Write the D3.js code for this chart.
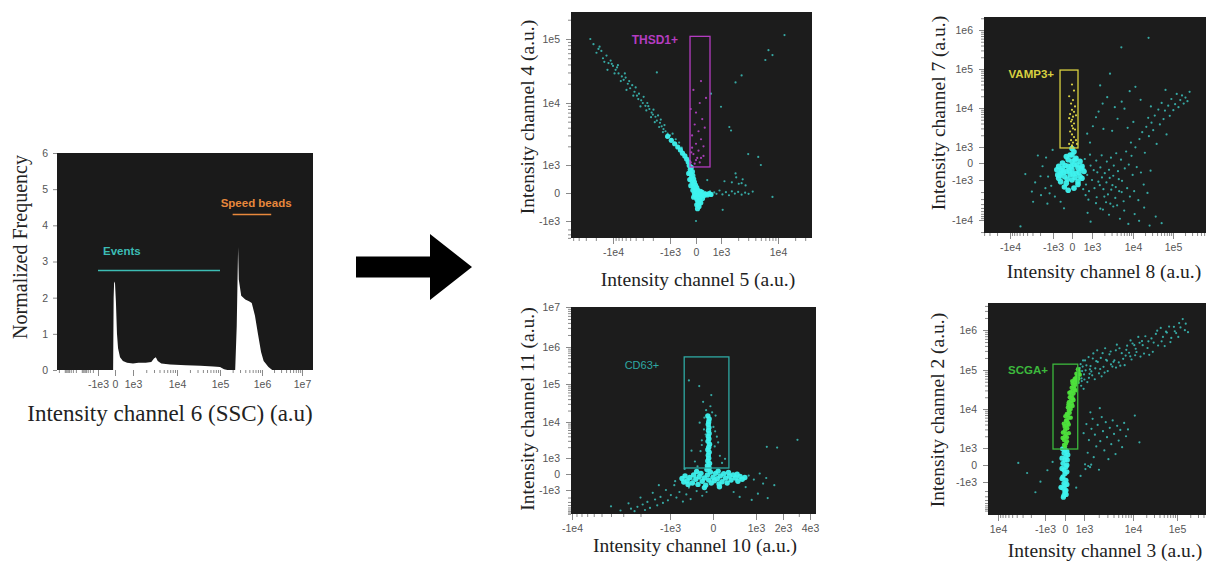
<!DOCTYPE html>
<html>
<head>
<meta charset="utf-8">
<script src="https://cdn.jsdelivr.net/npm/d3@7"></script>
<style>
body { margin: 0; background: #fff; }
svg { display: block; }
</style>
</head>
<body>
<svg width="1206" height="563"></svg>
<script>
// ---- histogram, channel 6 (SSC)
const histX = [-1000, -170, -110, -80, -50, 0, 50, 110, 170, 280, 440, 670, 1000, 1330, 1950, 2600, 3000, 3300, 3650, 4400, 7000, 16000, 35000, 70000, 100000, 125000, 150000, 230000, 250000, 270000, 280000, 320000, 400000, 490000, 570000, 680000, 800000, 950000, 1100000, 1450000, 1800000, 1e7];
const histY = [0, 0, 0, 2.0, 2.45, 2.4, 1.9, 1.0, 0.6, 0.35, 0.25, 0.2, 0.18, 0.2, 0.2, 0.22, 0.32, 0.35, 0.25, 0.18, 0.15, 0.13, 0.12, 0.1, 0.08, 0.02, 0, 0, 1.2, 3.4, 2.5, 2.05, 1.95, 1.9, 1.85, 1.5, 1.0, 0.5, 0.25, 0.08, 0, 0];
const histXTicks = [-1e3, 0, 1e3, 1e4, 1e5, 1e6, 1e7];
const histXLabels = ["-1e3", "0", "1e3", "1e4", "1e5", "1e6", "1e7"];
const histYTicks = [0, 1, 2, 3, 4, 5, 6];
// [label, from, to, level]
const histMarks = [["Events", -1e3, 1e5, 2.75], ["Speed beads", 2e5, 1.7e6, 4.3]];

// ---- panel A : channel 5 vs channel 4, THSD1+
const aXTicks = [-1e4, -1e3, 0, 1e3, 1e4];
const aXLabels = ["-1e4", "-1e3", "0", "1e3", "1e4"];
const aYTicks = [-1e3, 0, 1e3, 1e4, 1e5];
const aYLabels = ["-1e3", "0", "1e3", "1e4", "1e5"];
const aGate = [-230, 560, 930, 1.1e5];
const aSparse = [[-2.5e4,1e5],[-1.8e4,7e4],[-1.6e4,6.5e4],[-1.5e4,5e4],[-1.3e4,5.5e4],[-1.2e4,4.2e4],[-1.1e4,4.6e4],[-1e4,3.8e4],[-9e3,3.3e4],[-8.5e3,3.6e4],[-8e3,2.9e4],[-7e3,2.6e4],[-6.5e3,2.3e4],[-6e3,2.5e4],[-5.5e3,2e4],[-5e3,1.7e4],[-4.6e3,1.9e4],[-4.2e3,1.5e4],[-3.8e3,1.3e4],[-3.5e3,1.4e4],[-3.2e3,1.1e4],[-3e3,1e4],[-2.7e3,9e3],[-2.5e3,1e4],[-2.3e3,8e3],[-2.1e3,7e3],[-2e3,6.5e3],[-1.8e3,6e3],[-1.7e3,5.2e3],[-1.5e3,4.8e3],[-1.4e3,4.2e3],[-1.3e3,3.8e3],[-1.2e3,3.5e3],[-1.1e3,3.2e3],[-1e3,3e3],[-950,2.6e3],[-850,2.3e3],[-700,1.9e3],[-500,1.5e3],[-400,1.3e3],[-300,1.1e3],
  [-2.2e4,8.3e4],[-1.95e4,6.1e4],[-1.72e4,7.6e4],[-1.42e4,4.4e4],[-1.25e4,3.3e4],[-1.05e4,4.1e4],[-9.4e3,2.9e4],[-8.2e3,3.9e4],[-7.3e3,2.2e4],[-6.2e3,2.9e4],[-5.8e3,1.6e4],[-5.2e3,2.2e4],[-4.4e3,1.3e4],[-4e3,1.75e4],[-3.6e3,1.15e4],[-3.3e3,8.8e3],[-2.9e3,1.25e4],[-2.6e3,7.6e3],[-2.4e3,8.9e3],[-2.15e3,5.9e3],[-1.95e3,7.8e3],[-1.85e3,4.9e3],[-1.62e3,6.3e3],[-1.55e3,4.1e3],[-1.45e3,5.4e3],[-1.33e3,3.4e3],[-1.25e3,4.4e3],[-1.15e3,2.8e3],[-900,3.2e3],[-780,2.6e3],[-650,2.3e3],[-550,1.9e3],
  [310,-40],[380,30],[470,-10],[560,60],[640,-70],[730,20],[820,-30],[940,90],[1.06e3,-50],[1.22e3,30],[1.38e3,-80],[1.55e3,60],[1.75e3,-20],[2e3,40],[2.3e3,-60],[2.65e3,10],[3.05e3,-30],[3.6e3,50],[1.15e3,420],[1.55e3,380],[2.05e3,330],[2.7e3,270],[1.85e3,560],[2.4e3,490],
  [1.3e4,1.15e5],[6.8e3,6.7e4],[6e3,4.7e4],[8e3,5.6e4],[1.8e3,2.1e4],[2.3e3,2.7e4],[-1.7e3,3e4],[1.4e3,4.1e3],[1.5e3,3.6e3],[3e3,1.5e3],[4.5e3,1.35e3],[5e3,1e3],[8e3,-140],[0,-1e3],[1.07e3,-600],[1e3,8.7e3],[600,1.4e4],[450,460],[1.8e3,700],[2.3e3,350]];
const aCore = [[-1.1e3,2.9e3],[-950,2.5e3],[-820,2.2e3],[-700,1.95e3],[-600,1.75e3],[-520,1.55e3],[-430,1.4e3],[-360,1.25e3],[-300,1.12e3],
  [-260,980],[-180,920],[-220,840],[-140,760],[-200,690],[-120,620],[-170,560],[-90,500],[-150,430],[-60,390],[-110,330],[-20,280],[-80,230],[30,190],[-40,150],[60,110],[-10,70],[90,40],[20,0],[130,-30],[-60,-20],[60,-80],[170,-60],[0,-140],[110,-170],[220,-120],[40,-230],[150,-260],[260,-200],[80,-320],[190,-350],[30,-420],[120,-480],[60,-560],[-120,100],[-200,260],[-240,480],[-280,700],[320,-90],[380,-40],[450,-70],[520,-20],[600,-50],[250,20],[180,60],[-30,-80],[100,-400],[-90,-150]];
const aGated = [[-200,1.1e3],[0,1.2e3],[200,1.3e3],[-100,1.5e3],[100,1.7e3],[300,1.4e3],[-150,1.9e3],[0,2.2e3],[200,2.6e3],[-150,3e3],[100,3.5e3],[350,4e3],[-50,4.5e3],[250,5.5e3],[0,7e3],[-200,8e3],[150,1e4],[400,1.2e4],[-100,1.6e4],[200,2.2e4],[50,1.3e3],[-50,1.05e3],[150,1.1e3],[-180,1.6e3],[300,2e3]];

// ---- panel B : channel 8 vs channel 7, VAMP3+
const bXTicks = [-1e4, -1e3, 0, 1e3, 1e4, 1e5];
const bXLabels = ["-1e4", "-1e3", "0", "1e3", "1e4", "1e5"];
const bYTicks = [-1e4, -1e3, 0, 1e3, 1e4, 1e5, 1e6];
const bYLabels = ["-1e4", "-1e3", "0", "1e3", "1e4", "1e5", "1e6"];
const bGate = [-630, 300, 940, 9.4e4];
const bSparse = [[1.1e3,-420],[1.27e3,150],[1.43e3,-1.1e3],[1.6e3,-260],[1.72e3,480],[1.9e3,-1.7e3],[2.05e3,-600],[2.3e3,90],[2.45e3,-2.3e3],[2.7e3,-880],[2.9e3,330],[3.15e3,-1.35e3],[3.4e3,-150],[3.7e3,-2.8e3],[3.9e3,610],[4.3e3,-480],[4.6e3,-1.9e3],[5.1e3,210],[5.4e3,-1.05e3],[5.9e3,-3.4e3],[6.3e3,-320],[6.8e3,720],[7.2e3,-1.6e3],[7.9e3,-90],[8.4e3,-2.6e3],[9.2e3,450],[9.8e3,-700],[1.07e4,-1.9e3],[1.15e4,980],[1.24e4,-240],[1.36e4,-3.2e3],[1.45e4,1.6e3],[1.58e4,-560],[1.7e4,2.4e3],[1.85e4,-1.3e3],[1.98e4,640],[2.15e4,3.3e3],[2.3e4,-2.1e3],[2.5e4,1.9e3],[2.75e4,-450],[2.9e4,4.2e3],[1.3e3,-2.7e3],[2.2e3,-3.6e3],[4.1e3,-4.3e3],[8.9e3,1.3e3],
  [620,-350],[700,-1.3e3],[760,-700],[850,-1.9e3],[930,-150],[1e3,-1e3],[1.15e3,-1.6e3],[1.35e3,-550],[1.55e3,-1.35e3],[1.75e3,-850],[2e3,-2.6e3],[2.25e3,-1.15e3],[2.6e3,-400],[2.95e3,-1.75e3],[3.3e3,-750],[3.8e3,-1.5e3],[4.5e3,-950],[5.3e3,-2e3],[680,-2.4e3],[820,-3.1e3],[560,-1.7e3],[1.25e3,-3.8e3],[1.85e3,-5.5e3],[2.8e3,-3.9e3],[640,250],[900,520],[-900,-2.6e3],[-600,-3.5e3],[-1.5e3,-1.6e3],[-1.3e3,-800],
  [3.2e4,2.7e3],[3.5e4,6.4e3],[3.9e4,1.2e3],[4.3e4,9.1e3],[4.7e4,3.8e3],[5.2e4,1.35e4],[5.8e4,5.2e3],[6.3e4,8.6e3],[6.9e4,2.1e3],[7.6e4,1.15e4],[8.3e4,6.3e3],[9.1e4,1.7e4],[1.02e5,8.8e3],[1.13e5,1.25e4],[1.24e5,2.3e4],[1.37e5,1.05e4],[1.52e5,1.6e4],[1.68e5,2.1e4],[1.85e5,1.3e4],[2.05e5,1.85e4],[2.3e5,1.5e4],[2.6e5,2.6e4],[2.4e4,5.6e3],[2.8e4,1.1e4],[6.5e4,2.9e4],
  [1.6e3,-5.2e3],[2.6e3,-7.4e3],[3.3e3,-4.6e3],[4.8e3,-9.3e3],[6.1e3,-5.8e3],[7.7e3,-1.25e4],[1.1e4,-7.1e3],[1.42e4,-1.05e4],[1.9e4,-4.9e3],[2.6e4,-1.38e4],[3.7e4,-8.2e3],[780,-6.6e3],[-420,-5.1e3],[-1.35e3,-3.9e3],[-2.9e3,-3.5e3],[-1.9e3,-2.4e3],[-5.7e3,-1.45e4],[930,-1.1e4],[5.2e4,-1.2e4],
  [760,2.2e3],[1.05e3,3.4e3],[1.25e3,5.8e3],[1.45e3,8.1e3],[1.82e3,1.3e4],[2.35e3,1.9e4],[1.58e3,3.8e4],[2.75e3,7.6e4],[3.1e3,2.6e3],[4.2e3,5.3e3],[5.3e3,1.45e4],[7.4e3,3.1e3],[6.2e3,9.6e3],[1.02e4,4.4e3],[8.3e3,2.7e4],[5.2e3,3.6e5],[2.45e4,6.3e5],[1.55e4,1.62e4],[900,1.3e3],[1.9e3,2.9e3],[3.6e3,1.05e4],[1.15e4,3.5e4],
  [-1.95e3,-780],[-1.45e3,340],[-2.6e3,-1.15e3],[-1.75e3,-190],[-3.1e3,-1.95e3],[-1.2e3,-2.15e3],[-1.02e3,820],[-2.25e3,470],[-4.4e3,-650],[-1.1e3,-1.4e3]];
const bCore = [[-700,-900],[-600,-600],[-500,-300],[-400,-800],[-300,-500],[-200,-200],[-100,-700],[0,-400],[100,-100],[200,-600],[300,-300],[400,-800],[500,-200],[-600,-1.1e3],[-300,-1.2e3],[0,-1e3],[300,-1.1e3],[-500,0],[-200,200],[0,100],[200,300],[400,100],[-100,500],[100,700],[0,900],[-300,400],[300,-1.3e3],[-800,-400],[600,-500],[-400,-1.5e3],[100,-1.6e3],[-200,-1.8e3],[-700,-200],[500,-900],
  [-650,-750],[-450,-550],[-250,-950],[-50,-200],[150,-850],[350,-550],[450,-300],[-350,-150],[-150,-450],[50,-650],[250,-100],[-550,-450],[-750,-700],[150,200],[0,500]];
const bGated = [[0,1.1e3],[50,1.3e3],[-50,1.5e3],[100,1.8e3],[0,2.1e3],[-100,2.5e3],[50,3e3],[0,3.5e3],[100,4e3],[-50,4.5e3],[0,5e3],[50,6e3],[-100,7e3],[100,8e3],[0,9e3],[150,1.1e4],[-50,1.3e4],[50,1.6e4],[-150,2e4],[100,2.8e4],[0,4e4],[200,1.5e3],[-150,1.2e3],[150,2.8e3],[-150,5.5e3],[200,6.5e3],[0,1.05e3],[250,1.2e3]];

// ---- panel C : channel 10 vs channel 11, CD63+
const cXTicks = [-1e4, -1e3, 0, 1e3, 2e3, 4e3];
const cXLabels = ["-1e4", "-1e3", "0", "1e3", "2e3", "4e3"];
const cYTicks = [-1e3, 0, 1e3, 1e4, 1e5, 1e6, 1e7];
const cYLabels = ["-1e3", "0", "1e3", "1e4", "1e5", "1e6", "1e7"];
const cGate = [-670, 370, 375, 5.4e5];
const cSparse = [[-290,1.55e3],[40,2.1e3],[-260,3.1e3],[90,3.9e3],[-210,6.2e3],[10,7.3e3],[-310,9.6e3],[60,1.48e4],[-160,2.05e4],[-60,2.6e4],[-230,3.4e4],[-40,5.1e4],[-320,8.8e4],[-560,1.25e5],[-420,780],[160,1.15e3],[-360,480],[210,690],[-20,1.8e4],[-200,1.3e4],[50,5.5e3],[-260,2.3e3],[120,2.7e3],[-170,4.5e3],[-500,1.6e3],[-660,320],[280,950],
  [-320,-300],[-450,-600],[-380,-1.1e3],[-560,-850],[-620,-1.5e3],[-700,-400],[-780,-1.2e3],[-850,-2e3],[-900,-700],[-980,-1.6e3],[-1.05e3,-2.6e3],[-1.1e3,-1e3],[-1.18e3,-3.3e3],[-1.25e3,-1.9e3],[-1.35e3,-4.1e3],[-1.42e3,-2.4e3],[-1.5e3,-1.3e3],[-1.6e3,-5.2e3],[-1.7e3,-3e3],[-1.8e3,-6.3e3],[-1.9e3,-3.8e3],[-2e3,-2e3],[-2.15e3,-4.7e3],[-2.3e3,-7e3],[-2.5e3,-5.6e3],[-2.65e3,-3.4e3],[-520,-2.3e3],[-250,-1.7e3],[-150,-1.2e3],[-700,-2.9e3],[-1.3e3,-700],[-3.2e3,-6.6e3],[-4e3,-4.5e3],[-480,-350],[-880,-450],
  [480,-1.2e3],[620,-1.9e3],[760,-820],[900,-2.5e3],[1.05e3,-1.4e3],[1.2e3,-600],[1.35e3,-2.1e3],[830,-100],[950,-350],[1.1e3,30],[1.3e3,-250],[1.6e3,-700],[1.32e3,2.05e3],[1.72e3,1.95e3],[2.9e3,3.2e3]];
const cCore = [[-720,-280],[-650,-120],[-600,-420],[-540,-220],[-480,-560],[-450,-60],[-400,-330],[-350,-650],[-320,-160],[-280,40],[-250,-450],[-200,-250],[-170,-700],[-130,-60],[-100,-380],[-60,120],[-40,-560],[0,-200],[30,-420],[60,40],[100,-300],[140,-620],[170,-120],[210,-480],[250,20],[290,-260],[330,-560],[380,-140],[420,-380],[470,-60],[520,-250],[580,-450],[630,-150],[680,-330],[-580,-650],[-380,160],[120,180],[360,100],[-680,-500],[560,-20],[740,-220],[-200,-850],[150,-800],
  [-140,280],[-90,380],[-130,520],[-80,660],[-120,820],[-100,980],[-110,1.2e3],[-90,1.45e3],[-120,1.7e3],[-100,2e3],[-80,2.4e3],[-115,2.9e3],[-95,3.4e3],[-110,4e3],[-90,4.8e3],[-105,5.8e3],[-95,7e3],[-110,8.5e3],[-100,1e4],[-90,1.2e4],[-120,1.45e4]];

// ---- panel D : channel 3 vs channel 2, SCGA+
const dXTicks = [-1e4, -1e3, 0, 1e3, 1e4, 1e5];
const dXLabels = ["1e4", "-1e3", "0", "1e3", "1e4", "1e5"];
const dYTicks = [-1e3, 0, 1e3, 1e4, 1e5, 1e6];
const dYLabels = ["-1e3", "0", "1e3", "1e4", "1e5", "1e6"];
const dGate = [-600, 670, 940, 1.4e5];
const dSparse = [[720,4.66e4],[780,1.12e5],[850,3.95e4],[900,9.4e4],[950,1.74e5],[1e3,7.7e4],[1.12e3,1.31e5],[1.26e3,6.3e4],[1.32e3,1.04e5],[1.51e3,1.94e5],[1.66e3,5.8e4],[1.91e3,1.59e5],[2.14e3,1.06e5],[2.4e3,2.64e5],[2.63e3,8.6e4],[2.95e3,1.71e5],[3.31e3,2.47e5],[3.8e3,1.22e5],[4.17e3,1.75e5],[4.68e3,4.3e5],[5.13e3,1.55e5],[5.89e3,2.63e5],[6.76e3,1.32e5],[7.59e3,4.06e5],[8.32e3,2.7e5],[9.33e3,1.83e5],[1.07e4,4.17e5],[1.2e4,2.82e5],[1.32e4,6.7e5],[1.48e4,2.17e5],[1.66e4,4.17e5],[1.91e4,6.98e5],[2.14e4,3.55e5],[2.34e4,2.4e5],[2.63e4,6.14e5],[2.95e4,4.86e5],[3.31e4,7.98e5],[3.72e4,4.1e5],[4.27e4,1.13e6],[4.79e4,6.7e5],[5.25e4,3.97e5],[5.89e4,8.6e5],[6.61e4,1.22e6],[7.41e4,6.35e5],[8.51e4,1.2e6],[9.55e4,8.36e5],[1.07e5,6.7e5],[1.2e5,1.16e6],[1.35e5,1.88e6],[1.51e5,9.9e5],
  [750,7.2e4],[880,5.2e4],[1.05e3,1.74e5],[1.41e3,9.2e4],[1.78e3,1.66e5],[2.29e3,6.9e4],[2.82e3,1.8e5],[3.55e3,1.38e5],[4.47e3,3.1e5],[5.5e3,1.28e5],[7.08e3,2.3e5],[8.91e3,5.5e5],[1.12e4,2.34e5],[1.41e4,4.8e5],[1.78e4,2.58e5],[2.24e4,5.2e5],[2.82e4,2.85e5],[3.55e4,9.6e5],[4.47e4,5.2e5],[5.62e4,9.1e5],[7.08e4,5e5],[8.91e4,9.3e5],[1.12e5,1.49e6],[1.58e5,1.44e6],[1.78e5,8.8e5],
  [820,1.4e5],[870,6.1e4],[930,1.22e5],[980,3.3e4],[1.08e3,9.8e4],[1.17e3,4.9e4],[1.24e3,2.1e5],[1.36e3,1.25e5],[1.47e3,7.3e4],[1.55e3,2.6e5],[1.7e3,1.1e5],[1.86e3,3.1e5],[2.02e3,8.2e4],[2.2e3,2e5],[2.5e3,1.2e5],[2.7e3,3.5e5],[3.05e3,9.4e4],[3.5e3,2.9e5],[4e3,1.6e5],[4.5e3,1.15e5],[5.3e3,3.5e5],[6.3e3,1.9e5],[7.3e3,3.2e5],[8.8e3,2.2e5],[9.8e3,4.6e5],[1.15e4,3.4e5],[1.6e4,5.3e5],[760,9.9e4],[1.02e3,5.7e4],[1.3e3,8e4],
  [980,2.4e3],[1.07e3,-240],[1.12e3,4.1e3],[1.19e3,720],[1.26e3,1.6e3],[1.33e3,-130],[1.42e3,3.1e3],[1.5e3,5.6e3],[1.58e3,460],[1.67e3,2.2e3],[1.78e3,1.1e3],[1.9e3,3.9e3],[2.02e3,-280],[2.15e3,1.5e3],[2.3e3,6.2e3],[2.44e3,2.7e3],[2.6e3,860],[2.78e3,4.6e3],[2.95e3,1.9e3],[3.15e3,340],[3.36e3,3.3e3],[3.6e3,1.25e3],[3.85e3,5.1e3],[4.1e3,2.3e3],[4.4e3,640],[4.75e3,3.7e3],[5.1e3,1.55e3],[5.5e3,2.9e3],[6e3,1.05e3],[6.6e3,4.4e3],[7.2e3,2e3],[7.9e3,3e3],[1.4e4,1.4e3],[1.1e4,6.8e3],[1.35e3,8.2e3],[2.1e3,1.05e4],[1.05e3,40],[1.22e3,-60],[1.4e3,20],
  [-2.4e3,-470],[-880,-310],[-620,180],[-1.25e3,-980],[820,-640],[590,-1.55e3],[-3.7e3,120],[-1.6e3,-2.2e3]];
const dCore = [[0,900],[-50,700],[50,500],[0,300],[-100,100],[50,-100],[-50,-300],[0,-500],[-100,-700],[50,-900],[-50,-1.1e3],[0,-1.3e3],[-100,-1.6e3],[50,-1.9e3],[0,-2.3e3],[-50,-2.8e3],[100,800],[-150,400],[100,0],[-150,-200],[100,-400],[-150,-800],[100,-1.2e3],[-200,-1.5e3],[150,600],[0,-2e3],[-80,-3.2e3],[60,-2.6e3],[-120,950],[120,300]];
const dGated = [[0,1.1e3],[50,1.3e3],[-50,1.6e3],[100,1.9e3],[50,2.3e3],[0,2.8e3],[120,3.2e3],[80,3.8e3],[150,4.5e3],[100,5.2e3],[200,6e3],[150,7e3],[250,8e3],[200,9e3],[300,1e4],[250,1.2e4],[350,1.4e4],[300,1.6e4],[400,1.9e4],[350,2.2e4],[450,2.5e4],[400,2.9e4],[500,3.3e4],[450,3.8e4],[550,4.2e4],[500,4.8e4],[600,5.5e4],[550,6.2e4],[650,7e4],[700,6e4],[600,8e4],[-50,1.2e3],[100,1.5e3],[0,2e3],[-20,3.5e3],[200,4e3],[50,5e3],[100,7.5e3],[150,1.1e4],[200,1.5e4],[250,2e4],[300,2.7e4],[350,3.5e4],[400,4.5e4],[500,5.8e4],[650,5e4],[550,3e4],[450,1.7e4],[-100,2.5e3],[300,6e3],[400,1.2e4],[200,2.4e3],[-120,1.8e3],[20,6.5e3],[180,1.3e4],[230,2.6e4],[380,5.2e4],[-60,4.2e3],[720,9e4],[780,7.6e4],[680,1.05e5]];

// ---- drawing
const svg = d3.select("svg");
const tickFont = "'Liberation Sans', Arial, sans-serif";
const titleFont = "'Liberation Serif', 'Times New Roman', serif";

// linear between -1e3 and 1e3, one unit per decade outside
function fwd(v) {
  const a = Math.abs(v);
  return a <= 1000 ? v / 1000 : Math.sign(v) * (1 + Math.log10(a / 1000));
}
// ticks + pixel positions (plus optional extra calibration pairs) -> piecewise scale
function bixScale(ticks, pix, extra) {
  const pairs = ticks.map((t, i) => [t, pix[i]]).concat(extra || []).sort((a, b) => a[0] - b[0]);
  const lin = d3.scaleLinear().domain(pairs.map(d => fwd(d[0]))).range(pairs.map(d => d[1]));
  const s = v => lin(fwd(v));
  s.lin = lin;
  return s;
}
function minorTicks(scale, lo, hi) {
  const out = [];
  for (let k = 3; k <= 7; k++) {
    for (let m = 2; m <= 9; m++) {
      [m * 10 ** k, -m * 10 ** k].forEach(v => {
        const p = scale(v);
        if (p >= Math.min(lo, hi) && p <= Math.max(lo, hi)) out.push(v);
      });
    }
  }
  return out;
}
function styleAxis(g) {
  g.select(".domain").remove();
  g.selectAll("line").attr("stroke", "#8a8a8a");
  g.selectAll("text").attr("fill", "#555").style("font-family", tickFont).style("font-size", "10.5px");
}
function title(x, y, txt, rotate, size) {
  svg.append("text")
    .attr("transform", "translate(" + x + "," + y + ")" + (rotate ? " rotate(-90)" : ""))
    .attr("text-anchor", "middle")
    .style("font-family", titleFont)
    .style("font-size", (size || 19.5) + "px")
    .attr("fill", "#222")
    .text(txt);
}

function drawPanel(p) {
  const [x0, y0, x1, y1] = p.frame;
  const sx = bixScale(p.xTicks, p.xPix, p.xCal);
  const sy = bixScale(p.yTicks, p.yPix, p.yCal);
  const g = svg.append("g");
  g.append("rect").attr("x", x0).attr("y", y0).attr("width", x1 - x0).attr("height", y1 - y0).attr("fill", "#1c1c1c");
  const cid = "clip" + p.id;
  svg.append("clipPath").attr("id", cid).append("rect")
    .attr("x", x0).attr("y", y0).attr("width", x1 - x0).attr("height", y1 - y0);
  const pts = g.append("g").attr("clip-path", "url(#" + cid + ")");
  p.layers.forEach(l => {
    pts.append("g").selectAll("circle").data(l.data).join("circle")
      .attr("cx", d => sx(d[0])).attr("cy", d => sy(d[1]))
      .attr("r", l.r).attr("fill", l.color).attr("opacity", l.opacity);
  });
  const [gx0, gx1, gy0, gy1] = p.gate;
  g.append("rect")
    .attr("x", sx(gx0)).attr("y", sy(gy1))
    .attr("width", sx(gx1) - sx(gx0)).attr("height", sy(gy0) - sy(gy1))
    .attr("fill", "none").attr("stroke", p.gateColor).attr("stroke-width", 1.3);
  g.append("text")
    .attr("x", sx(gx0) - p.labelGap).attr("y", sy(gy1) + p.labelDy)
    .attr("text-anchor", "end")
    .style("font-family", tickFont).style("font-size", p.labelSize + "px")
    .style("font-weight", p.labelBold ? "bold" : "normal")
    .attr("fill", p.gateColor).text(p.label);

  // axes
  const xAx = svg.append("g").attr("transform", "translate(0," + y1 + ")")
    .call(d3.axisBottom(sx.lin).tickValues(p.xTicks.map(fwd)).tickSize(6).tickPadding(5)
      .tickFormat((d, i) => p.xLabels[i]));
  styleAxis(xAx);
  const xMin = svg.append("g").attr("transform", "translate(0," + y1 + ")")
    .call(d3.axisBottom(sx.lin).tickValues(minorTicks(sx, x0, x1).map(fwd)).tickSize(3).tickFormat(""));
  styleAxis(xMin);
  const yAx = svg.append("g").attr("transform", "translate(" + x0 + ",0)")
    .call(d3.axisLeft(sy.lin).tickValues(p.yTicks.map(fwd)).tickSize(5).tickPadding(6)
      .tickFormat((d, i) => p.yLabels[i]));
  styleAxis(yAx);
  const yMin = svg.append("g").attr("transform", "translate(" + x0 + ",0)")
    .call(d3.axisLeft(sy.lin).tickValues(minorTicks(sy, y0, y1).map(fwd)).tickSize(3).tickFormat(""));
  styleAxis(yMin);

  title(p.xTitlePos[0], p.xTitlePos[1], p.xTitle, false);
  title(p.yTitlePos[0], p.yTitlePos[1], p.yTitle, true);
}

// ---- histogram
(function () {
  const frame = [57, 153, 313, 370];
  const sx = bixScale(histXTicks, [98, 115, 133, 177, 220, 262, 302]);
  const sy = d3.scaleLinear().domain([0, 6]).range([frame[3], frame[1]]);
  const g = svg.append("g");
  g.append("rect").attr("x", frame[0]).attr("y", frame[1])
    .attr("width", frame[2] - frame[0]).attr("height", frame[3] - frame[1]).attr("fill", "#1a1a1a");
  const bins = histX.map((x, i) => [x, histY[i]]);
  g.append("path").datum(bins)
    .attr("d", d3.area().x(d => sx(d[0])).y0(sy(0)).y1(d => sy(d[1])))
    .attr("fill", "#fff");

  const markColors = ["#3cbcb4", "#e8883c"];
  histMarks.forEach((m, i) => {
    g.append("line")
      .attr("x1", sx(m[1])).attr("x2", sx(m[2]))
      .attr("y1", sy(m[3])).attr("y2", sy(m[3]))
      .attr("stroke", markColors[i]).attr("stroke-width", 1.5);
  });
  g.append("text").attr("x", sx(histMarks[0][1]) + 5).attr("y", sy(histMarks[0][3]) - 16)
    .style("font-family", tickFont).style("font-size", "11.5px").style("font-weight", "bold")
    .attr("fill", markColors[0]).text(histMarks[0][0]);
  g.append("text").attr("x", sx(histMarks[1][1]) - 12).attr("y", sy(histMarks[1][3]) - 7)
    .style("font-family", tickFont).style("font-size", "11.5px").style("font-weight", "bold")
    .attr("fill", markColors[1]).text(histMarks[1][0]);

  const xAx = svg.append("g").attr("transform", "translate(0," + frame[3] + ")")
    .call(d3.axisBottom(sx.lin).tickValues(histXTicks.map(fwd)).tickSize(6).tickPadding(5)
      .tickFormat((d, i) => histXLabels[i]));
  styleAxis(xAx);
  const xMin = svg.append("g").attr("transform", "translate(0," + frame[3] + ")")
    .call(d3.axisBottom(sx.lin).tickValues(minorTicks(sx, frame[0], frame[2]).map(fwd)).tickSize(3).tickFormat(""));
  styleAxis(xMin);
  const yAx = svg.append("g").attr("transform", "translate(" + frame[0] + ",0)")
    .call(d3.axisLeft(sy).tickValues(histYTicks).tickSize(4).tickPadding(5).tickFormat(d3.format("d")));
  styleAxis(yAx);

  title(170, 421, "Intensity channel 6 (SSC) (a.u)", false, 23);
  title(27, 247, "Normalized Frequency", true, 20);
})();

// ---- arrow
(function () {
  const a = { x0: 356, x1: 472, neck: 430, cy: 267, shaft: 21, head: 66 };
  svg.append("path")
    .attr("d", d3.line()([
      [a.x0, a.cy - a.shaft / 2], [a.neck, a.cy - a.shaft / 2], [a.neck, a.cy - a.head / 2],
      [a.x1, a.cy], [a.neck, a.cy + a.head / 2], [a.neck, a.cy + a.shaft / 2], [a.x0, a.cy + a.shaft / 2]
    ]) + "Z")
    .attr("fill", "#000");
})();

const cyan = "#3ef2ee", teal = "#3ab8b2";

drawPanel({
  id: "A", frame: [571, 12, 812, 238],
  xTicks: aXTicks, xLabels: aXLabels, xPix: [613, 670, 696, 721, 778],
  yTicks: aYTicks, yLabels: aYLabels, yPix: [221, 193, 165, 103, 39],
  layers: [
    { data: aSparse, r: 1.1, color: teal, opacity: 0.9 },
    { data: aCore, r: 2.6, color: cyan, opacity: 0.95 },
    { data: aGated, r: 1.1, color: "#b444c4", opacity: 0.9 }
  ],
  gate: aGate, gateColor: "#b43cc0", label: "THSD1+", labelGap: 12, labelDy: 8, labelSize: 12, labelBold: true,
  xTitle: "Intensity channel 5 (a.u.)", xTitlePos: [698, 286],
  yTitle: "Intensity channel 4 (a.u.)", yTitlePos: [534, 117]
});

drawPanel({
  id: "B", frame: [984, 17, 1215, 233],
  xTicks: bXTicks, xLabels: bXLabels, xPix: [1010, 1053, 1072, 1092, 1133, 1173],
  yTicks: bYTicks, yLabels: bYLabels, yPix: [220, 180, 163, 147, 108, 69, 30],
  layers: [
    { data: bSparse, r: 1.1, color: teal, opacity: 0.9 },
    { data: bCore, r: 2.8, color: cyan, opacity: 0.95 },
    { data: bGated, r: 1.1, color: "#e0d848", opacity: 0.95 }
  ],
  gate: bGate, gateColor: "#d8d040", label: "VAMP3+", labelGap: 6, labelDy: 8, labelSize: 11.5, labelBold: true,
  xTitle: "Intensity channel 8 (a.u.)", xTitlePos: [1104, 278],
  yTitle: "Intensity channel 7 (a.u.)", yTitlePos: [945, 113]
});

drawPanel({
  id: "C", frame: [571, 307, 816, 514],
  xTicks: cXTicks, xLabels: cXLabels, xPix: [572, 670, 713, 756, 783, 810],
  yTicks: cYTicks, yLabels: cYLabels, yPix: [490, 474, 458, 422, 384, 347, 307], yCal: [[-1e4, 515]],
  layers: [
    { data: cSparse, r: 1.1, color: teal, opacity: 0.9 },
    { data: cCore, r: 2.7, color: cyan, opacity: 0.95 }
  ],
  gate: cGate, gateColor: "#2ea8a2", label: "CD63+", labelGap: 25, labelDy: 12, labelSize: 11, labelBold: false,
  xTitle: "Intensity channel 10 (a.u.)", xTitlePos: [695, 552],
  yTitle: "Intensity channel 11 (a.u.)", yTitlePos: [534, 409]
});

drawPanel({
  id: "D", frame: [988, 303, 1215, 515],
  xTicks: dXTicks, xLabels: dXLabels, xPix: [998, 1045, 1065, 1084, 1133, 1177],
  yTicks: dYTicks, yLabels: dYLabels, yPix: [482, 465, 448, 409, 370, 330], yCal: [[-1e4, 512]],
  layers: [
    { data: dSparse, r: 1.1, color: teal, opacity: 0.9 },
    { data: dCore, r: 2.6, color: cyan, opacity: 0.95 },
    { data: dGated, r: 2.2, color: "#4ee23c", opacity: 0.95 }
  ],
  gate: dGate, gateColor: "#3cb83c", label: "SCGA+", labelGap: 5, labelDy: 10, labelSize: 11.5, labelBold: true,
  xTitle: "Intensity channel 3 (a.u.)", xTitlePos: [1105, 557],
  yTitle: "Intensity channel 2 (a.u.)", yTitlePos: [944, 410]
});
</script>
</body>
</html>
